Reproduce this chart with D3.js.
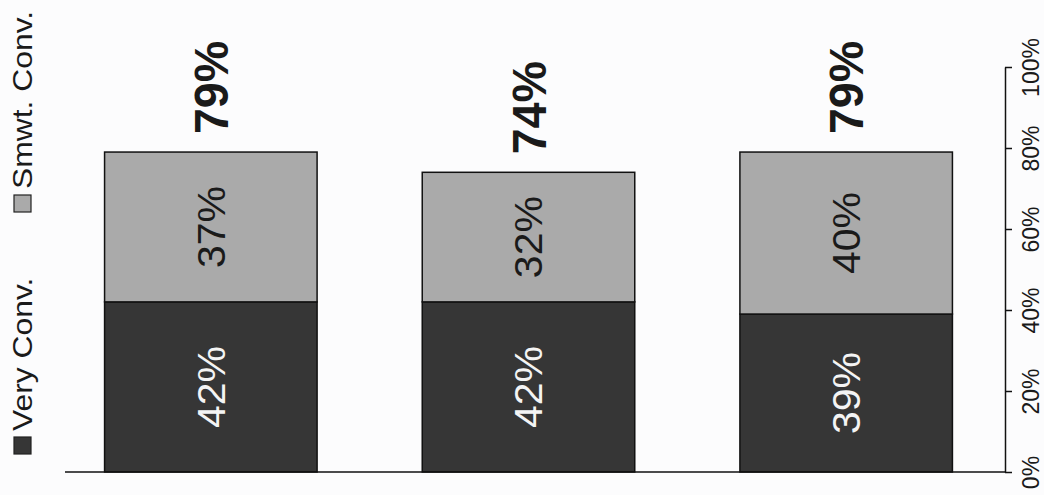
<!DOCTYPE html>
<html>
<head>
<meta charset="utf-8">
<script src="https://cdn.jsdelivr.net/npm/d3@7"></script>
<style>
  html, body { margin: 0; padding: 0; background: #fcfcfd; }
  svg { display: block; font-family: "Liberation Sans", Arial, sans-serif; }
</style>
</head>
<body>
<svg id="chart" width="1044" height="495"></svg>
<script>
// ---- data ----
const categories = ["A", "B", "C"];
const seriesNames = ["Very Conv.", "Smwt. Conv."];
const veryConv = [42, 42, 39];
const smwtConv = [37, 32, 40];
const totals = [79, 74, 79];
const tickValues = [0, 20, 40, 60, 80, 100];
const tickLabels = ["0%", "20%", "40%", "60%", "80%", "100%"];

// ---- setup ----
const colors = ["#363636", "#aaaaaa"];
const svg = d3.select("#chart");
const x0 = 52, x1 = 1005, yBase = 472, yTop = 67;

const rows = categories.map((c, i) => ({ cat: c, v: veryConv[i], s: smwtConv[i] }));
const stack = d3.stack().keys(["v", "s"]);
const series = stack(rows);

const x = d3.scaleBand().domain(categories).range([x0, x1])
  .paddingInner(0.331).paddingOuter(0.1655);
const y = d3.scaleLinear().domain([0, 100]).range([yBase, yTop]);

// bars
const g = svg.append("g");
series.forEach((ser, si) => {
  g.selectAll(null).data(ser).enter().append("rect")
    .attr("x", d => x(d.data.cat))
    .attr("y", d => y(d[1]))
    .attr("width", x.bandwidth())
    .attr("height", d => y(d[0]) - y(d[1]))
    .attr("fill", colors[si])
    .attr("stroke", "#111")
    .attr("stroke-width", 1.5);
});

// segment labels (rotated)
series.forEach((ser, si) => {
  g.selectAll(null).data(ser).enter().append("text")
    .attr("transform", d => {
      const cx = x(d.data.cat) + x.bandwidth() / 2;
      const cy = (y(d[0]) + y(d[1])) / 2;
      return `translate(${cx},${cy}) rotate(-90) scale(1.08,1)`;
    })
    .attr("text-anchor", "middle")
    .attr("dy", "0.36em")
    .attr("font-size", 38)
    .attr("fill", si === 0 ? "#f4f4f4" : "#1a1a1a")
    .text(d => (d[1] - d[0]) + "%");
});

// totals
g.selectAll(null).data(categories).enter().append("text")
  .attr("transform", (c, i) => {
    const cx = x(c) + x.bandwidth() / 2;
    return `translate(${cx},${y(totals[i]) - 18}) rotate(-90) scale(0.97,1)`;
  })
  .attr("text-anchor", "start")
  .attr("dy", "0.36em")
  .attr("font-size", 48)
  .attr("font-weight", "bold")
  .attr("fill", "#1a1a1a")
  .text((c, i) => totals[i] + "%");

// baseline
svg.append("line")
  .attr("x1", 65).attr("x2", x1)
  .attr("y1", y(0)).attr("y2", y(0))
  .attr("stroke", "#111").attr("stroke-width", 1.5);

// right axis
const axis = d3.axisRight(y).tickValues(tickValues)
  .tickFormat((d, i) => tickLabels[i]).tickSize(7).tickSizeOuter(0);
const ax = svg.append("g").attr("transform", `translate(${x1},0)`).call(axis);
ax.select(".domain").attr("stroke", "#111").attr("stroke-width", 1.5);
ax.selectAll(".tick line").attr("stroke", "#111").attr("stroke-width", 1.5);
ax.selectAll(".tick text")
  .attr("x", null)
  .attr("transform", "translate(26,0) rotate(-90)")
  .attr("text-anchor", "middle")
  .attr("dy", "0.36em")
  .attr("font-size", 23)
  .attr("font-family", "Liberation Sans, Arial, sans-serif")
  .attr("fill", "#1a1a1a");

// legend (rotated)
const legendY = [454, 212];
seriesNames.forEach((name, i) => {
  svg.append("rect")
    .attr("x", 14).attr("y", legendY[i] - 17)
    .attr("width", 17).attr("height", 17)
    .attr("fill", colors[i]).attr("stroke", "#222").attr("stroke-width", 1.2);
  svg.append("text")
    .attr("transform", `translate(22,${legendY[i] - 23}) rotate(-90) scale(1.18,1)`)
    .attr("text-anchor", "start")
    .attr("dy", "0.36em")
    .attr("font-size", 27)
    .attr("fill", "#1a1a1a")
    .text(name);
});
</script>
</body>
</html>
